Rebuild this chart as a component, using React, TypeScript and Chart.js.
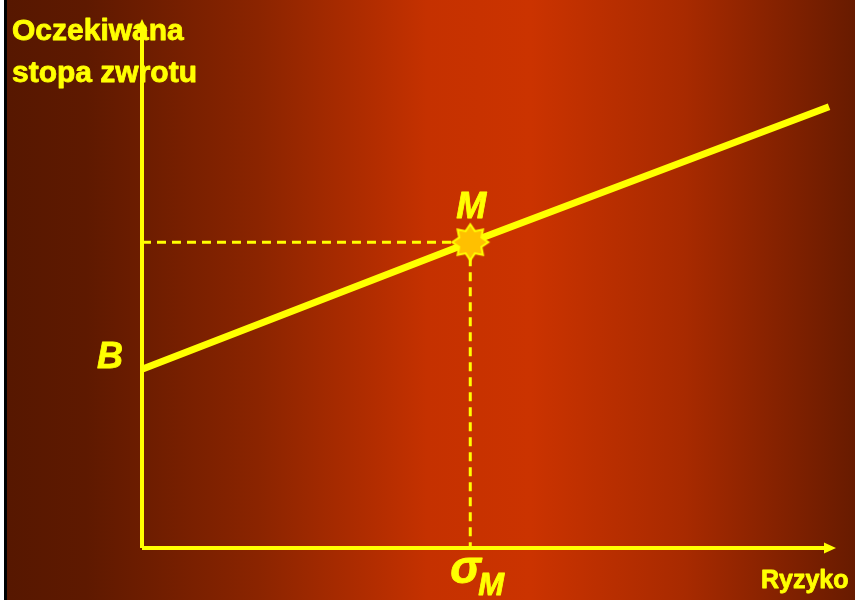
import React, { useEffect, useRef } from "react";
import { Chart, registerables } from "chart.js";

Chart.register(...registerables);

// Data (risk on x, expected return on y)
const riskValues = [0, 4.73, 9.9];
const returnValues = [3.38, 5.78, 8.34];
const marketRisk = 4.73;
const marketReturn = 5.78;
const axisMax = [10, 10];
const yTitleLines = ["Oczekiwana", "stopa zwrotu"];
const xTitle = "Ryzyko";
const pointLabelB = "B";
const pointLabelM = "M";
const sigmaLabel = "σ";
const sigmaSub = "M";

const YELLOW = "#ffff00";
const FONT = "'Liberation Sans', Arial, sans-serif";

function makeStar(): HTMLCanvasElement {
  const c = document.createElement("canvas");
  c.width = 42;
  c.height = 42;
  const g = c.getContext("2d")!;
  const cx = 21, cy = 21, ro = 18, ri = 12;
  g.beginPath();
  for (let i = 0; i < 16; i++) {
    const r = i % 2 === 0 ? ro : ri;
    const a = -Math.PI / 2 + (i * Math.PI) / 8;
    const px = cx + r * Math.cos(a);
    const py = cy + r * Math.sin(a);
    if (i === 0) g.moveTo(px, py);
    else g.lineTo(px, py);
  }
  g.closePath();
  g.fillStyle = "#ffc000";
  g.fill();
  g.lineWidth = 2;
  g.strokeStyle = YELLOW;
  g.stroke();
  return c;
}

const bgPlugin = {
  id: "bg",
  beforeDraw(chart: any) {
    const { ctx, width, height } = chart;
    const grad = ctx.createLinearGradient(0, 0, width, 0);
    grad.addColorStop(0, "#561700");
    grad.addColorStop(0.1, "#5e1900");
    grad.addColorStop(0.3, "#8a2400");
    grad.addColorStop(0.5, "#c53100");
    grad.addColorStop(0.62, "#cb3300");
    grad.addColorStop(0.8, "#a82a00");
    grad.addColorStop(1, "#681b00");
    ctx.save();
    ctx.fillStyle = grad;
    ctx.fillRect(0, 0, width, height);
    ctx.fillStyle = "#ffffff";
    ctx.fillRect(0, 0, 4, height);
    ctx.fillStyle = "#000000";
    ctx.fillRect(4, 0, 3, height);
    ctx.restore();
  },
};

function boldText(ctx: CanvasRenderingContext2D, t: string, x: number, y: number) {
  ctx.fillText(t, x, y);
  ctx.strokeText(t, x, y);
}

const annPlugin = {
  id: "ann",
  afterDatasetsDraw(chart: any) {
    const { ctx } = chart;
    const xs = chart.scales.x;
    const ys = chart.scales.y;
    const x0 = xs.getPixelForValue(0);
    const y0 = ys.getPixelForValue(0);
    const xEnd = xs.getPixelForValue(axisMax[0]);
    const yEnd = ys.getPixelForValue(axisMax[1]);
    ctx.save();
    ctx.fillStyle = YELLOW;
    ctx.strokeStyle = YELLOW;
    ctx.lineWidth = 0.8;
    ctx.lineJoin = "round";
    // arrows
    ctx.beginPath();
    ctx.moveTo(x0, yEnd);
    ctx.lineTo(x0 - 5.5, yEnd + 12);
    ctx.lineTo(x0 + 5.5, yEnd + 12);
    ctx.closePath();
    ctx.fill();
    ctx.beginPath();
    ctx.moveTo(xEnd, y0);
    ctx.lineTo(xEnd - 12, y0 - 5.5);
    ctx.lineTo(xEnd - 12, y0 + 5.5);
    ctx.closePath();
    ctx.fill();

    // titles
    ctx.textBaseline = "alphabetic";
    ctx.textAlign = "left";
    ctx.font = `bold 30px ${FONT}`;
    boldText(ctx, yTitleLines[0], 12, 40);
    boldText(ctx, yTitleLines[1], 12, 82);
    ctx.font = `bold 25px ${FONT}`;
    boldText(ctx, xTitle, 761, 588);

    // B label
    const bY = ys.getPixelForValue(returnValues[0]);
    ctx.textAlign = "center";
    ctx.font = `italic bold 36px ${FONT}`;
    boldText(ctx, pointLabelB, x0 - 32, bY - 1);
    // M label
    const mX = xs.getPixelForValue(marketRisk);
    const mY = ys.getPixelForValue(marketReturn);
    boldText(ctx, pointLabelM, mX + 1, mY - 24);
    // sigma_M
    ctx.textAlign = "left";
    ctx.font = `italic bold 46px ${FONT}`;
    boldText(ctx, sigmaLabel, mX - 20, y0 + 35);
    ctx.font = `italic bold 31px ${FONT}`;
    boldText(ctx, sigmaSub, mX + 8, y0 + 47);
    ctx.restore();
  },
};

export default function App() {
  const ref = useRef<HTMLCanvasElement | null>(null);
  useEffect(() => {
    document.body.style.margin = "0";
    if (!ref.current) return;
    const star = makeStar();
    const line = riskValues.map((x, i) => ({ x, y: returnValues[i] }));
    const chart = new Chart(ref.current, {
      type: "scatter",
      data: {
        // first dataset is drawn on top
        datasets: [
          {
            data: [{ x: marketRisk, y: marketReturn }],
            pointStyle: star as any,
            pointRadius: 18,
            clip: false,
          },
          {
            data: line,
            showLine: true,
            borderColor: YELLOW,
            borderWidth: 7,
            borderCapStyle: "butt",
            pointRadius: 0,
            clip: false,
          },
          {
            data: [{ x: 0, y: 0 }, { x: 0, y: axisMax[1] - 0.1 }],
            showLine: true,
            borderColor: YELLOW,
            borderWidth: 4,
            pointRadius: 0,
            clip: false,
          },
          {
            data: [{ x: 0, y: 0 }, { x: axisMax[0] - 0.1, y: 0 }],
            showLine: true,
            borderColor: YELLOW,
            borderWidth: 4,
            pointRadius: 0,
            clip: false,
          },
          {
            data: [{ x: 0, y: marketReturn }, { x: marketRisk, y: marketReturn }],
            showLine: true,
            borderColor: YELLOW,
            borderWidth: 3,
            borderDash: [9, 6],
            pointRadius: 0,
            clip: false,
          },
          {
            data: [{ x: marketRisk, y: marketReturn }, { x: marketRisk, y: 0 }],
            showLine: true,
            borderColor: YELLOW,
            borderWidth: 3,
            borderDash: [9, 6],
            pointRadius: 0,
            clip: false,
          },
        ],
      },
      options: {
        animation: false,
        responsive: false,
        maintainAspectRatio: false,
        layout: { padding: { left: 142, right: 19, top: 13, bottom: 52 } },
        plugins: { legend: { display: false }, tooltip: { enabled: false } },
        scales: {
          x: { type: "linear", min: 0, max: axisMax[0], display: false },
          y: { type: "linear", min: 0, max: axisMax[1], display: false },
        },
      },
      plugins: [bgPlugin, annPlugin],
    });
    return () => chart.destroy();
  }, []);
  return (
    <div style={{ width: 855, height: 600 }}>
      <canvas ref={ref} width={855} height={600} style={{ display: "block" }} />
    </div>
  );
}
